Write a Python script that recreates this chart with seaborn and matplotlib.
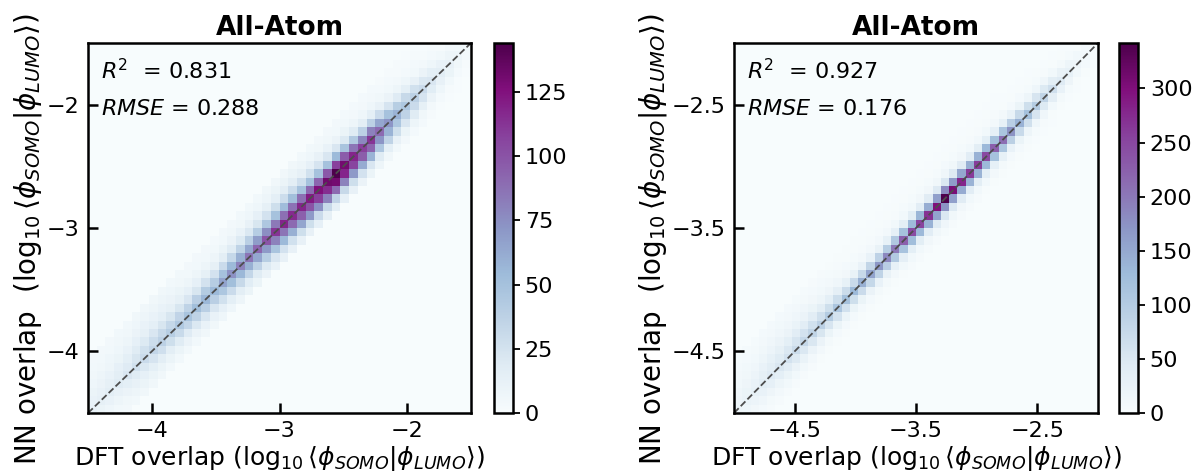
import numpy as np
import pandas as pd
import matplotlib
matplotlib.use("Agg")
import matplotlib.pyplot as plt
import seaborn as sns

# ---------------------------------------------------------------------------
# Histogram layout
# ---------------------------------------------------------------------------
N_BINS = 44
left_range = (-4.5, -1.5)
right_range = (-5.0, -2.0)
left_ticks = [-4, -3, -2]
right_ticks = [-4.5, -3.5, -2.5]
left_cbar_ticks = [0, 25, 50, 75, 100, 125]
right_cbar_ticks = [0, 50, 100, 150, 200, 250, 300]
left_vmax = 144
right_vmax = 342
titles = ["All-Atom", "All-Atom"]
left_r2, left_rmse = "0.831", "0.288"
right_r2, right_rmse = "0.927", "0.176"

# ---------------------------------------------------------------------------
# Counts per DFT bin (column), along the diagonal and the cells above/below it
# ---------------------------------------------------------------------------
left_diag = [12, 14, 16, 18, 22, 26, 30, 34, 38, 40, 44, 48, 52, 56, 55, 66, 74, 80, 86, 92, 100, 112,
             118, 116, 118, 122, 126, 132, 144, 130, 118, 108, 112, 90, 72, 58, 46, 38, 30, 22, 16, 12, 8, 5]
left_above_1 = [11, 12, 14, 16, 19, 23, 26, 29, 32, 33, 35, 36, 39, 42, 41, 50, 55, 60, 64, 69, 75, 84,
                88, 87, 88, 90, 92, 98, 108, 96, 86, 78, 80, 64, 50, 40, 32, 26, 21, 15, 11, 8, 5, 3]
left_above_2 = [9, 10, 11, 13, 15, 18, 20, 22, 23, 23, 23, 22, 23, 25, 25, 30, 33, 36, 39, 41, 45, 50,
                53, 52, 50, 50, 50, 50, 55, 48, 43, 38, 38, 30, 24, 19, 15, 12, 10, 7, 5, 4, 3, 2]
left_above_3 = [7, 8, 8, 9, 11, 13, 14, 15, 15, 14, 14, 13, 13, 14, 14, 16, 18, 20, 21, 23, 25, 28,
                29, 29, 27, 26, 24, 22, 22, 20, 18, 16, 15, 12, 10, 8, 7, 5, 4, 3, 2, 2, 1, 1]
left_above_4 = [6, 6, 7, 7, 8, 10, 11, 11, 11, 10, 9, 8, 8, 8, 8, 9, 10, 11, 12, 13, 14, 15,
                16, 16, 14, 13, 12, 11, 10, 9, 8, 7, 7, 6, 5, 4, 3, 3, 2, 2, 1, 1, 1, 0]
left_above_5 = [5, 5, 5, 6, 6, 7, 8, 8, 8, 7, 6, 5, 5, 5, 5, 5, 6, 6, 7, 7, 8, 9,
                9, 9, 8, 7, 6, 6, 5, 5, 4, 4, 4, 3, 3, 2, 2, 2, 1, 1, 1, 0, 0, 0]
left_above_6 = [4, 4, 4, 5, 5, 6, 6, 6, 6, 5, 5, 4, 4, 4, 3, 4, 4, 5, 5, 5, 6, 6,
                6, 6, 5, 5, 4, 4, 4, 3, 3, 3, 3, 2, 2, 2, 1, 1, 1, 1, 0, 0, 0, 0]
left_below_1 = [8, 9, 11, 12, 15, 18, 21, 24, 27, 28, 31, 34, 36, 39, 39, 46, 52, 56, 60, 64, 70, 80,
                86, 90, 95, 100, 108, 115, 130, 118, 106, 96, 92, 72, 58, 46, 36, 30, 24, 17, 12, 9, 6, 4]
left_below_2 = [5, 6, 7, 8, 10, 12, 13, 15, 16, 16, 18, 19, 21, 22, 22, 26, 30, 32, 34, 37, 40, 48,
                55, 60, 65, 70, 74, 80, 90, 80, 70, 62, 58, 45, 36, 28, 22, 18, 14, 10, 7, 5, 3, 2]
left_below_3 = [3, 4, 5, 5, 6, 8, 9, 9, 9, 9, 9, 10, 10, 11, 11, 13, 15, 16, 17, 18, 20, 22,
                25, 26, 28, 28, 30, 32, 35, 32, 28, 25, 22, 18, 15, 12, 9, 8, 6, 4, 3, 2, 1, 1]
left_below_4 = [2, 3, 3, 3, 4, 5, 6, 6, 6, 5, 5, 5, 5, 6, 6, 7, 7, 8, 9, 9, 10, 11,
                12, 12, 12, 12, 13, 14, 15, 13, 12, 10, 9, 8, 6, 5, 4, 3, 3, 2, 1, 1, 1, 0]

right_diag = [20, 25, 30, 38, 45, 52, 60, 70, 78, 85, 92, 100, 110, 120, 130, 142, 155, 170, 185, 200, 225, 245,
              255, 270, 300, 342, 305, 280, 262, 260, 248, 225, 210, 175, 140, 120, 100, 85, 65, 45, 30, 18, 10, 5]
right_above_1 = [18, 22, 26, 33, 38, 44, 50, 56, 60, 62, 64, 66, 68, 70, 72, 76, 82, 88, 96, 104, 118, 128,
                 135, 145, 160, 180, 165, 152, 142, 140, 132, 120, 112, 94, 76, 66, 56, 48, 38, 27, 19, 12, 7, 4]
right_above_2 = [15, 18, 21, 26, 30, 33, 36, 40, 40, 40, 38, 36, 34, 30, 28, 26, 26, 28, 30, 32, 36, 38,
                 40, 42, 46, 50, 46, 42, 40, 38, 36, 32, 30, 26, 22, 19, 17, 15, 12, 9, 6, 4, 3, 2]
right_above_3 = [12, 14, 16, 19, 21, 23, 24, 25, 24, 22, 20, 18, 16, 13, 11, 10, 10, 10, 10, 11, 12, 12,
                 13, 13, 14, 15, 14, 13, 12, 12, 11, 10, 10, 8, 7, 6, 6, 5, 4, 3, 2, 2, 1, 1]
right_above_4 = [10, 11, 12, 14, 15, 16, 16, 16, 15, 13, 12, 10, 9, 7, 6, 5, 5, 5, 5, 5, 6, 6,
                 6, 6, 6, 7, 6, 6, 5, 5, 5, 5, 4, 4, 3, 3, 3, 2, 2, 2, 1, 1, 1, 0]
right_above_5 = [8, 8, 9, 10, 10, 11, 10, 10, 9, 8, 7, 6, 5, 4, 4, 3, 3, 3, 3, 3, 3, 3,
                 3, 3, 3, 3, 3, 3, 3, 3, 3, 2, 2, 2, 2, 2, 1, 1, 1, 1, 1, 0, 0, 0]
right_above_6 = [6, 6, 6, 7, 7, 7, 7, 6, 6, 5, 5, 4, 4, 3, 3, 2, 2, 2, 2, 2, 2, 2,
                 2, 2, 2, 2, 2, 2, 2, 2, 2, 2, 1, 1, 1, 1, 1, 1, 1, 0, 0, 0, 0, 0]
right_below_1 = [14, 17, 21, 26, 31, 36, 40, 46, 50, 52, 54, 56, 58, 62, 66, 72, 78, 86, 94, 102, 115, 125,
                 132, 140, 155, 175, 160, 148, 138, 138, 130, 118, 110, 92, 74, 64, 55, 47, 37, 26, 18, 11, 7, 4]
right_below_2 = [9, 11, 13, 16, 18, 20, 22, 24, 25, 24, 24, 22, 22, 22, 22, 22, 24, 26, 28, 30, 34, 36,
                 38, 40, 44, 50, 46, 42, 40, 38, 36, 32, 30, 26, 22, 19, 17, 15, 12, 9, 6, 4, 3, 2]
right_below_3 = [5, 6, 7, 8, 9, 10, 11, 11, 11, 10, 10, 9, 8, 8, 8, 8, 8, 9, 9, 10, 11, 12,
                 12, 13, 14, 15, 14, 13, 12, 12, 11, 10, 9, 8, 7, 6, 6, 5, 4, 3, 2, 2, 1, 1]
right_below_4 = [3, 3, 4, 4, 5, 5, 5, 5, 5, 5, 4, 4, 4, 3, 3, 3, 3, 3, 4, 4, 4, 5,
                 5, 5, 5, 6, 5, 5, 5, 5, 4, 4, 4, 3, 3, 3, 2, 2, 2, 1, 1, 1, 0, 0]

left_bands = {0: left_diag, 1: left_above_1, 2: left_above_2, 3: left_above_3,
              4: left_above_4, 5: left_above_5, 6: left_above_6,
              -1: left_below_1, -2: left_below_2, -3: left_below_3, -4: left_below_4}
right_bands = {0: right_diag, 1: right_above_1, 2: right_above_2, 3: right_above_3,
               4: right_above_4, 5: right_above_5, 6: right_above_6,
               -1: right_below_1, -2: right_below_2, -3: right_below_3, -4: right_below_4}


def binned_table(lo, hi, bands):
    """One weighted point at the centre of every populated (DFT, NN) cell."""
    width = (hi - lo) / N_BINS
    centers = lo + width * (np.arange(N_BINS) + 0.5)
    xs, ys, ws = [], [], []
    for offset, counts in bands.items():
        for i, c in enumerate(counts):
            j = i + offset
            if 0 <= j < N_BINS and c > 0:
                xs.append(centers[i])
                ys.append(centers[j])
                ws.append(c)
    return pd.DataFrame({"dft": xs, "nn": ys, "count": ws})


FS_TICK = 16
FS_XLABEL = 18
FS_YLABEL = 20
FS_TITLE = 19
xlabel = r"DFT overlap ($\log_{10}\langle\phi_{SOMO}|\phi_{LUMO}\rangle$)"
ylabel = r"NN overlap  ($\log_{10}\langle\phi_{SOMO}|\phi_{LUMO}\rangle$)"

fig = plt.figure(figsize=(12.03, 4.76), dpi=100)
W, H = 1203, 476


def px_axes(x0, y0, x1, y1):
    return fig.add_axes([x0 / W, 1 - y1 / H, (x1 - x0) / W, (y1 - y0) / H])


panels = [
    dict(ax=px_axes(88, 43, 471, 413), cax=px_axes(494, 43, 513, 413),
         rng=left_range, ticks=left_ticks, cticks=left_cbar_ticks, vmax=left_vmax,
         bands=left_bands, r2=left_r2, rmse=left_rmse, title=titles[0], tx=0.034),
    dict(ax=px_axes(734, 43, 1098, 413), cax=px_axes(1119, 43, 1138, 413),
         rng=right_range, ticks=right_ticks, cticks=right_cbar_ticks, vmax=right_vmax,
         bands=right_bands, r2=right_r2, rmse=right_rmse, title=titles[1], tx=0.037),
]

for p in panels:
    ax, cax, rng = p["ax"], p["cax"], p["rng"]
    df = binned_table(rng[0], rng[1], p["bands"])
    sns.histplot(data=df, x="dft", y="nn", weights="count", bins=N_BINS, binrange=rng,
                 cmap="BuPu", thresh=None, vmin=0, vmax=p["vmax"],
                 cbar=True, cbar_ax=cax, ax=ax)
    ax.set_xlim(rng)
    ax.set_ylim(rng)
    ax.axline((rng[0], rng[0]), slope=1, ls="--", color="#4d4d4d", lw=1.3)

    ax.set_xticks(p["ticks"])
    ax.set_yticks(p["ticks"])
    ax.tick_params(direction="in", length=7, width=1.8, labelsize=FS_TICK, pad=6)
    for s in ax.spines.values():
        s.set_linewidth(1.8)
        s.set_color("black")
    ax.set_xlabel(xlabel, fontsize=FS_XLABEL, labelpad=2)
    ax.set_ylabel(ylabel, fontsize=FS_YLABEL, labelpad=2)
    ax.yaxis.label.set_y(0.47)
    ax.set_title(p["title"], fontsize=FS_TITLE, fontweight="bold", pad=6)

    ax.text(p["tx"], 0.925, r"$R^2$  = " + p["r2"], transform=ax.transAxes,
            fontsize=FS_TICK, va="center", ha="left")
    ax.text(p["tx"], 0.822, r"$RMSE$ = " + p["rmse"], transform=ax.transAxes,
            fontsize=FS_TICK, va="center", ha="left")

    cax.set_yticks(p["cticks"])
    cax.tick_params(direction="out", length=5, width=1.3, labelsize=FS_TICK)
    for s in cax.spines.values():
        s.set_linewidth(1.8)

fig.savefig("out.png", dpi=100)
